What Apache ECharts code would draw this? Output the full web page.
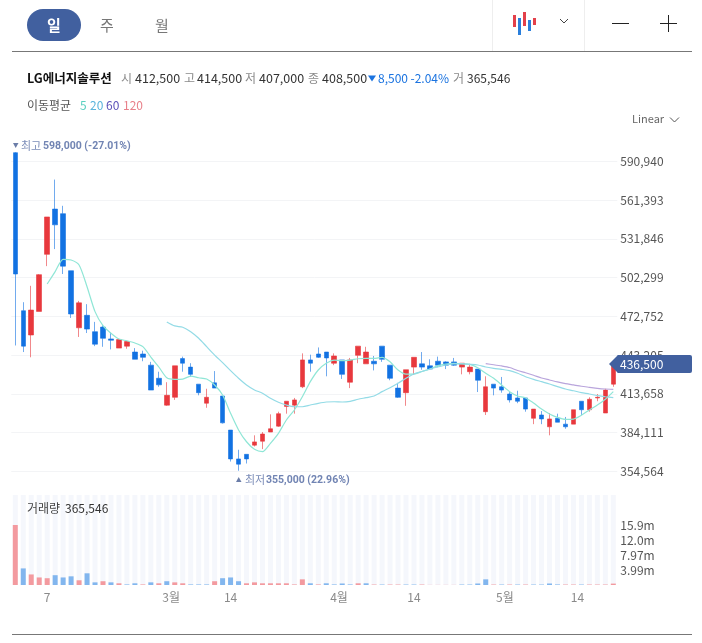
<!DOCTYPE html>
<html>
<head>
<meta charset="utf-8">
<style>html,body{margin:0;padding:0;background:#fff}#c{width:702px;height:643px}</style>
<script src="https://cdn.jsdelivr.net/npm/echarts@6/dist/echarts.min.js"></script>
</head>
<body>
<div id="c"></div>
<script>
const openPrices = [597500,477000,458500,476500,520000,554500,551000,507500,464000,473500,
461000,464500,455500,448500,450000,445500,444000,435500,425500,405000,
411000,440500,434000,421000,406500,422000,412000,386000,364000,367500,
374500,377500,384500,389000,404000,405000,419000,439500,444000,445500,
437000,439500,422500,443000,436500,438500,450000,435500,418000,414500,
434000,436500,435000,438500,438000,438000,434000,430500,432500,400000,
421000,419000,413500,410500,410500,395000,397500,388500,395000,390500,
390500,408000,401500,410500,399000,421000];
const closePrices = [505000,450000,477500,504500,548500,542500,511000,474500,483000,463000,
451500,456000,454500,455000,453500,440000,441500,416500,420500,412500,
435000,437000,428500,414500,411000,418000,391500,364000,360000,364000,
377000,383000,387000,398500,408000,409000,439500,437000,441500,441000,
442500,428500,439500,450000,445500,436500,440000,425500,411000,432000,
441500,434000,432500,435500,435500,435500,437000,434000,424000,419000,
418000,416500,409000,408000,402000,402000,394500,394500,392000,388500,
401500,401500,409500,411000,416500,436500];
const lowPrices = [450500,445500,441500,476500,511000,524000,505000,471500,457000,460000,
450000,449500,447500,448500,448000,440000,438500,416500,419000,404500,
409000,430500,426500,412500,403000,418000,391000,362000,355000,360500,
373500,371500,384500,388500,398500,398500,418000,430500,441000,427000,
435500,425000,418000,437000,436500,431500,438000,424000,410500,404500,
428000,432000,432000,434000,432500,435000,428500,428500,415000,397500,
412500,414500,407000,406500,400000,390500,390500,382000,392000,387000,
390500,397500,400000,408000,399000,419000];
const highPrices = [598000,483500,496000,505000,548500,577000,557000,507500,484500,482000,
468500,466000,460500,455500,454000,448500,446500,438000,430500,422500,
435000,442000,437000,421000,417500,431000,412000,386000,371000,367500,
382000,384500,398000,400000,408000,410500,444500,443500,449000,445500,
444500,439500,441000,450000,449500,442500,450000,435500,422000,432000,
441500,445500,440000,442000,438500,441000,437000,436500,432500,427000,
421000,426500,415000,416000,410500,402000,400500,399000,398500,396000,
401500,408000,411000,413500,417500,438000];
const ma5 = [null,null,null,null,497400,506800,516200,515700,511900,495300,
476300,465600,459800,455400,454100,452400,449600,441700,434100,425900,
424700,424900,427200,425900,424900,420400,412700,398800,386100,377100,
371300,369500,375900,383500,393700,401300,411400,422900,431800,436900,
439400,438900,439400,440400,440700,440700,441500,438100,431800,428700,
428700,430700,432600,435100,436400,436900,436600,436100,433500,429300,
425500,420400,415300,412000,410500,406600,402100,398300,395700,394200,
394400,397300,401300,405100,409500,415300];
const ma20 = [null,null,null,null,null,null,null,null,null,null,
null,null,null,null,null,null,null,null,null,468400,
465400,464400,461000,456000,449600,443200,437400,431300,425500,420400,
416600,414100,410200,407200,405100,403800,403800,405100,406400,407400,
407600,407400,407900,409500,410700,412000,415300,418300,421700,425500,
428800,430700,432600,434100,435600,436400,436400,436100,435600,434100,
433100,432300,431300,429300,426700,424700,422900,421100,419100,417300,
416000,414500,413500,412200,411400,410700];
const ma60 = [null,null,null,null,null,null,null,null,null,null,
null,null,null,null,null,null,null,null,null,null,
null,null,null,null,null,null,null,null,null,null,
null,null,null,null,null,null,null,null,null,null,
null,null,null,null,null,null,null,null,null,null,
null,null,null,null,null,null,null,null,null,436600,
435800,434900,433700,431400,429700,427800,425700,424200,422700,421400,
420400,419400,418600,417800,417300,417100];
const volumesM = [15.9,4.4,2.8,2.0,1.8,2.6,2.0,2.3,1.25,3.1,
0.7,1.0,0.7,0.45,0.15,0.45,0.15,0.7,0.45,1.0,
0.7,0.45,0.15,0.15,0.15,1.0,1.8,2.0,1.0,0.45,
0.7,0.45,0.45,0.45,0.45,0.15,1.5,0.45,0.15,0.45,
0.15,0.4,0.15,0.45,0.45,0.12,0.12,0.12,0.12,0.12,
0.12,0.12,0.03,0.03,0.03,0.03,0.12,0.12,0.4,1.5,
0.12,0.12,0.12,0.12,0.12,0.12,0.12,0.4,0.15,0.12,
0.12,0.12,0.12,0.12,0.12,0.37];
const volumeUp = [1,0,1,1,1,0,0,0,1,0,
0,1,0,1,0,0,1,0,1,0,
1,1,0,0,0,1,0,0,0,1,
1,1,1,1,1,1,1,0,1,0,
0,0,0,1,0,1,0,1,1,0,
0,1,1,1,1,1,0,0,0,0,
1,0,1,0,1,0,0,0,0,1,
1,0,1,1,1,1];
const categories = openPrices.map((_, i) => 'D' + i);
const xLabelPositions = [4, 19.55, 27, 40.6, 50, 61.4, 70.5];
const xLabelTexts = ['7', '3월', '14', '4월', '14', '5월', '14'];
const volumeTickLabels = ['', '3.99m', '7.97m', '12.0m', '15.9m', '', ''];
const stockName = 'LG에너지솔루션';

const FONT = '"Noto Sans CJK KR","Noto Sans",sans-serif';
const NUMFONT = 'Roboto,"Noto Sans CJK KR",sans-serif';
const UP = '#e8383d', DOWN = '#1272e2';
const BRAND = '#41609f';

function txt(x, y, text, fill, size, weight, align, family) {
  return {type:'text', z:50, style:{x, y, text, fill, font:(weight||'normal')+' '+(size||12)+'px '+(family||FONT),
    textAlign:align||'left', textVerticalAlign:'middle'}};
}
function rect(x, y, w, h, fill, r) {
  return {type:'rect', z:50, shape:{x,y,width:w,height:h,r:r||0}, style:{fill}};
}
function line(x1,y1,x2,y2,stroke,w) {
  return {type:'line', z:50, shape:{x1,y1,x2,y2}, style:{stroke,lineWidth:w||1}};
}
function poly(points, stroke) {
  return {type:'polyline', z:50, shape:{points}, style:{stroke,fill:null,lineWidth:1}};
}

const GRAY = '#8a8a8a', DARK = '#333';
const graphics = [
  rect(27,9,54,32,BRAND,16),
  txt(54,25,'일','#fff',15,'bold','center'),
  txt(107,25,'주','#777',15,'normal','center'),
  txt(162,25,'월','#777',15,'normal','center'),
  line(492.5,0,492.5,51,'#eeeeee'),
  line(584.5,0,584.5,51,'#eeeeee'),
  line(12,51.5,692,51.5,'#777777'),
  line(12,634.5,692,634.5,'#777777'),
  rect(513,15,3,12,'#e3404a'), rect(518,18,3,17,'#2a7fdc'), rect(523,12,3,14,'#e3404a'),
  rect(528,20,3,11,'#2a7fdc'), rect(533,18,3,7,'#e3404a'),
  poly([[560,19],[564,23],[568,19]],'#444'),
  line(612,23.5,629,23.5,'#222'),
  line(660,23.5,677,23.5,'#222'),
  line(668.5,15,668.5,32,'#222'),
  txt(27,78.5,stockName,'#111',12.5,'bold'),
  txt(121,78.5,'시',GRAY), txt(135,78.5,'412,500',DARK,12.5),
  txt(184,78.5,'고',GRAY), txt(197,78.5,'414,500',DARK,12.5),
  txt(245,78.5,'저',GRAY), txt(259,78.5,'407,000',DARK,12.5),
  txt(308,78.5,'종',GRAY), txt(322,78.5,'408,500',DARK,12.5),
  {type:'polygon',z:50,shape:{points:[[368,75.5],[376,75.5],[372,81.5]]},style:{fill:'#1a73e0'}},
  txt(378,78.5,'8,500','#1a73e0',12), txt(410.5,78.5,'-2.04%','#1a73e0',12),
  txt(453,78.5,'거',GRAY), txt(467,78.5,'365,546',DARK,12),
  txt(27,105.5,'이동평균','#555'),
  txt(80,105.5,'5','#5cd0c0'), txt(90,105.5,'20','#5ab4dc'), txt(106,105.5,'60','#5a50b8'), txt(123,105.5,'120','#e8808a'),
  txt(632,119,'Linear','#666',11),
  poly([[670,117.5],[674.5,122],[679,117.5]],'#555'),
  {type:'polygon',z:50,shape:{points:[[13,143],[18.5,143],[15.7,148]]},style:{fill:'#6b7da8'}},
  txt(21,146,'최고','#7c8db8',11), txt(43,146,'598,000 (-27.01%)','#7184b3',10.5,'bold','left',NUMFONT),
  {type:'polygon',z:50,shape:{points:[[236,482],[241.5,482],[238.7,477]]},style:{fill:'#6b7da8'}},
  txt(245,480,'최저','#7c8db8',11), txt(266,480,'355,000 (22.96%)','#7184b3',10.5,'bold','left',NUMFONT),
  {type:'polygon',z:60,shape:{points:[[609,364],[618,355],[630,355],[630,373],[618,373]]},style:{fill:BRAND}},
  {type:'rect',z:60,shape:{x:617,y:355,width:75,height:18,r:2},style:{fill:BRAND}},
  {type:'text',z:61,style:{x:620,y:364,text:'436,500',fill:'#fff',font:'12px '+FONT,textVerticalAlign:'middle'}},
  txt(27,508,'거래량','#444'), txt(65,508,'365,546',DARK)
];

const chart = echarts.init(document.getElementById('c'), null, {renderer:'canvas'});
const maLine = (name, data, color) => ({
  name, type:'line', data, xAxisIndex:0, yAxisIndex:0, symbol:'none', smooth:0.25, silent:true,
  lineStyle:{color, width:1.2}, z:5
});
chart.setOption({
  animation:false,
  backgroundColor:'#fff',
  textStyle:{fontFamily:FONT},
  grid:[
    {left:11.3, width:606, top:122.55, height:348.75},
    {left:11.3, width:606, top:495, height:90}
  ],
  xAxis:[
    {type:'category', gridIndex:0, data:categories, axisLine:{show:false}, axisTick:{show:false}, axisLabel:{show:false}, splitLine:{show:false}},
    {type:'category', gridIndex:1, data:categories, axisLine:{show:false}, axisTick:{show:false}, axisLabel:{show:false}, splitLine:{show:false}},
    {type:'value', gridIndex:1, position:'bottom', min:-0.5, max:75.5, axisLine:{show:false}, axisTick:{show:false}, splitLine:{show:false},
     axisLabel:{customValues:xLabelPositions, margin:6, color:'#8a8a8a', fontSize:12, fontFamily:FONT, hideOverlap:false,
       formatter:v=>xLabelTexts[xLabelPositions.indexOf(v)]}}
  ],
  yAxis:[
    {type:'value', gridIndex:0, position:'right', min:354564, max:620487, interval:29547,
     axisLine:{show:false}, axisTick:{show:false},
     splitLine:{show:true, showMaxLine:false, lineStyle:{color:'#f3f4f6', width:1}},
     axisLabel:{margin:3, color:'#555', fontSize:12, fontFamily:FONT, showMaxLabel:false,
       formatter:v=>Math.round(v).toLocaleString('en-US')}},
    {type:'value', gridIndex:1, position:'right', min:0, max:23850000, interval:3975000,
     axisLine:{show:false}, axisTick:{show:false}, splitLine:{show:false},
     axisLabel:{margin:3, color:'#555', fontSize:12, fontFamily:FONT,
       formatter:(v,i)=>volumeTickLabels[Math.round(v/3975000)]}}
  ],
  series:[
    {type:'candlestick', name:'price', xAxisIndex:0, yAxisIndex:0, barWidth:5, z:3,
     data:openPrices.map((o,i)=>[o,closePrices[i],lowPrices[i],highPrices[i]]),
     itemStyle:{color:UP,color0:DOWN,borderColor:UP,borderColor0:DOWN,borderWidth:0.6}},
    maLine('MA5',ma5,'#8fe6d6'),
    maLine('MA20',ma20,'#93dbe6'),
    maLine('MA60',ma60,'#b9a5dc'),
    {type:'bar', name:'volume', xAxisIndex:1, yAxisIndex:1, barWidth:5,
     showBackground:true, backgroundStyle:{color:'#f5f7fc'},
     data:volumesM.map((v,i)=>({value:v*1e6, itemStyle:{color:volumeUp[i]?'#f39a9f':'#82b6ee'}}))}
  ],
  graphic:{elements:graphics}
});
</script>
</body>
</html>
